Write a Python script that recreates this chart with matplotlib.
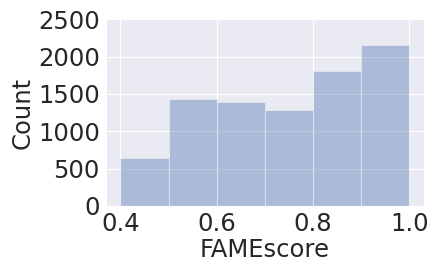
import matplotlib
matplotlib.use("Agg")
import matplotlib.pyplot as plt
import seaborn as sns
import numpy as np

# histogram of FAMEscore, counts
bin_edges = [0.4, 0.5, 0.6, 0.7, 0.8, 0.9, 1.0]
counts = [642, 1430, 1386, 1283, 1800, 2157]

sns.set_style("darkgrid")
plt.rcParams['font.family'] = ['DejaVu Sans']

fig, ax = plt.subplots(figsize=(4.36, 2.63), dpi=100)
centers = (np.array(bin_edges[:-1]) + np.array(bin_edges[1:])) / 2
ax.hist(centers, bins=bin_edges, weights=counts, color='#4c72b0', alpha=0.4,
        edgecolor=(1, 1, 1, 0.5), linewidth=0.8)
ax.set_ylim(0, 2500)
ax.set_yticks([0, 500, 1000, 1500, 2000, 2500])
ax.set_xticks([0.4, 0.6, 0.8, 1.0])
ax.tick_params(labelsize=17.5, pad=1)
ax.set_xlabel('FAMEscore', fontsize=17.5, labelpad=1)
ax.set_ylabel('Count', fontsize=17.5, labelpad=2)
fig.subplots_adjust(left=0.243, right=0.972, top=0.927, bottom=0.217)
fig.savefig('out.png', dpi=100)
